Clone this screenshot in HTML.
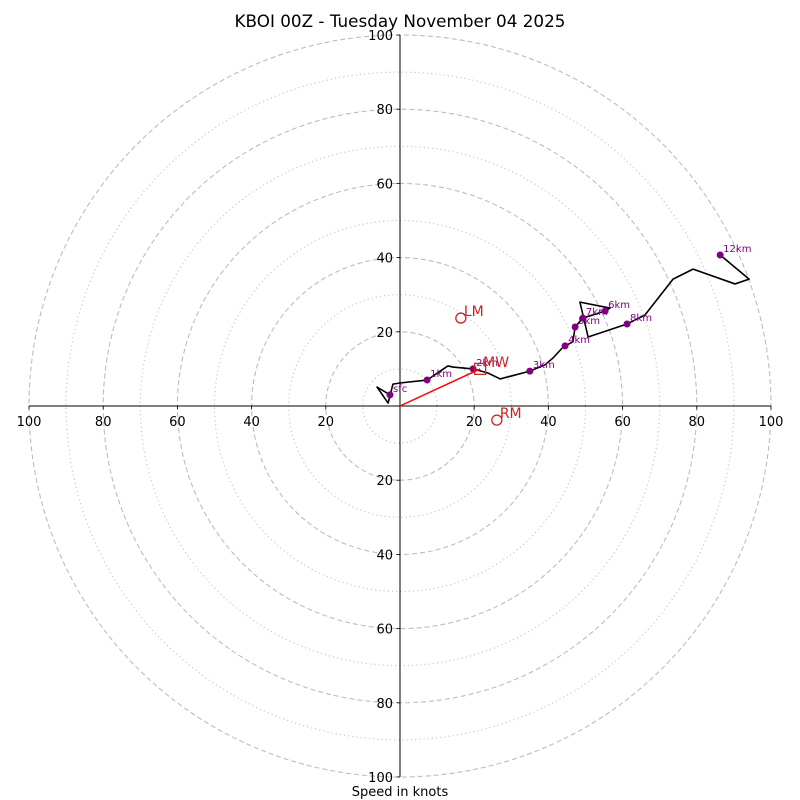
<!DOCTYPE html>
<html><head><meta charset="utf-8"><style>
html,body{margin:0;padding:0;background:#fff;}
svg{display:block;font-family:"DejaVu Sans","Liberation Sans",sans-serif;}
</style></head><body>
<svg id="chart" width="800" height="800" viewBox="0 0 800 800" xmlns="http://www.w3.org/2000/svg">
<rect width="800" height="800" fill="#fff"/>
<text x="400" y="27" text-anchor="middle" font-size="16.8" fill="#000">KBOI 00Z - Tuesday November 04 2025</text>
<text x="400" y="796" text-anchor="middle" font-size="13" fill="#000">Speed in knots</text>
<g id="rings"></g><g id="axes"></g><g id="trace"></g><g id="markers"></g><g id="motions"></g>
</svg>
<script>
const ringMajor=[20,40,60,80,100];
const ringMinor=[10,30,50,70,90];
const tickVals=[-100,-80,-60,-40,-20,20,40,60,80,100];
const traceU=[-2.7,-6.2,-3.2,-1.9,0,7.3,12.9,14.3,19.7,23.7,27.0,35.0,39.1,41.2,43.7,44.5,46.6,47.2,49.3,55.3,56.6,48.5,50.7,61.2,66.0,73.6,79.0,90.3,94.1,86.3];
const traceV=[3.0,5.1,0.8,5.9,6.2,7.0,10.8,10.5,10.0,8.9,7.3,9.4,11.1,12.9,15.6,16.2,17.3,21.3,23.7,25.6,26.4,28.0,18.6,22.1,24.5,34.2,36.9,32.9,34.2,40.7];
const markLabels=["sfc","1km","2km","3km","4km","5km","7km","6km","8km","12km"];
const markU=[-2.7,7.3,19.7,35.0,44.5,47.2,49.3,55.3,61.2,86.3];
const markV=[3.0,7.0,10.0,9.4,16.2,21.3,23.7,25.6,22.1,40.7];
const motionNames=["MW","LM","RM"];
const motionU=[21.6,16.4,26.1];
const motionV=[10.0,23.7,-3.8];

const cx=400,cy=406,sc=3.71;
const X=u=>cx+u*sc, Y=v=>cy-v*sc;
const NS="http://www.w3.org/2000/svg";
function mk(tag,attrs,parent){const e=document.createElementNS(NS,tag);for(const k in attrs)e.setAttribute(k,attrs[k]);parent.appendChild(e);return e;}
const rings=document.getElementById('rings'),axes=document.getElementById('axes'),trace=document.getElementById('trace'),markers=document.getElementById('markers'),motions=document.getElementById('motions');
ringMinor.forEach(r=>{const c=mk('circle',{cx:cx,cy:cy,r:r*sc,fill:'none',stroke:'#c8c8c8','stroke-width':1.2,'stroke-dasharray':'1.2,3'},rings);

});
ringMajor.forEach(r=>{const c=mk('circle',{cx:cx,cy:cy,r:r*sc,fill:'none',stroke:'#bdbdbd','stroke-width':1.1,'stroke-dasharray':'5,3'},rings);

});
const xa=mk('line',{x1:X(-100),y1:cy,x2:X(100),y2:cy,stroke:'#000','stroke-width':1},axes);


const ya=mk('line',{x1:cx,y1:Y(100),x2:cx,y2:Y(-100),stroke:'#000','stroke-width':1},axes);


tickVals.forEach(t=>{
 mk('line',{x1:X(t),y1:cy,x2:X(t),y2:cy+3.5,stroke:'#000','stroke-width':0.8},axes);
 const tx=mk('text',{x:X(t),y:cy+20,'text-anchor':'middle','font-size':13},axes);tx.textContent=Math.abs(t);
 
 
 mk('line',{x1:cx-3.5,y1:Y(t),x2:cx,y2:Y(t),stroke:'#000','stroke-width':0.8},axes);
 const ty=mk('text',{x:cx-7,y:Y(t)+5,'text-anchor':'end','font-size':13},axes);ty.textContent=Math.abs(t);
 
 
});
const pl=mk('polyline',{points:traceU.map((u,i)=>X(u)+','+Y(traceV[i])).join(' '),fill:'none',stroke:'#000','stroke-width':1.6,'stroke-linejoin':'round'},trace);


const mwl=mk('line',{x1:X(0),y1:Y(0),x2:X(motionU[0]),y2:Y(motionV[0]),stroke:'#ff0000','stroke-width':1.5},motions);


markU.forEach((u,i)=>{
 const d=mk('circle',{cx:X(u),cy:Y(markV[i]),r:3.5,fill:'#800080'},markers);
 
 
 const t=mk('text',{x:X(u)+3,y:Y(markV[i])-3,'font-size':10,fill:'#800080'},markers);t.textContent=markLabels[i];
 
 
});
motionNames.forEach((n,i)=>{
 const x=X(motionU[i]),y=Y(motionV[i]);
 let s;
 if(n==='MW') s=mk('rect',{x:x-5.5,y:y-5.5,width:11,height:11,fill:'none',stroke:'#cc2222','stroke-width':1.3},motions);
 else s=mk('circle',{cx:x,cy:y,r:5,fill:'none',stroke:'#cc2222','stroke-width':1.3},motions);
 
 
 const t=mk('text',{x:x+3,y:y-2,'font-size':14,fill:'#cc2222'},motions);t.textContent=n;
 
 
});
</script>
</body></html>
